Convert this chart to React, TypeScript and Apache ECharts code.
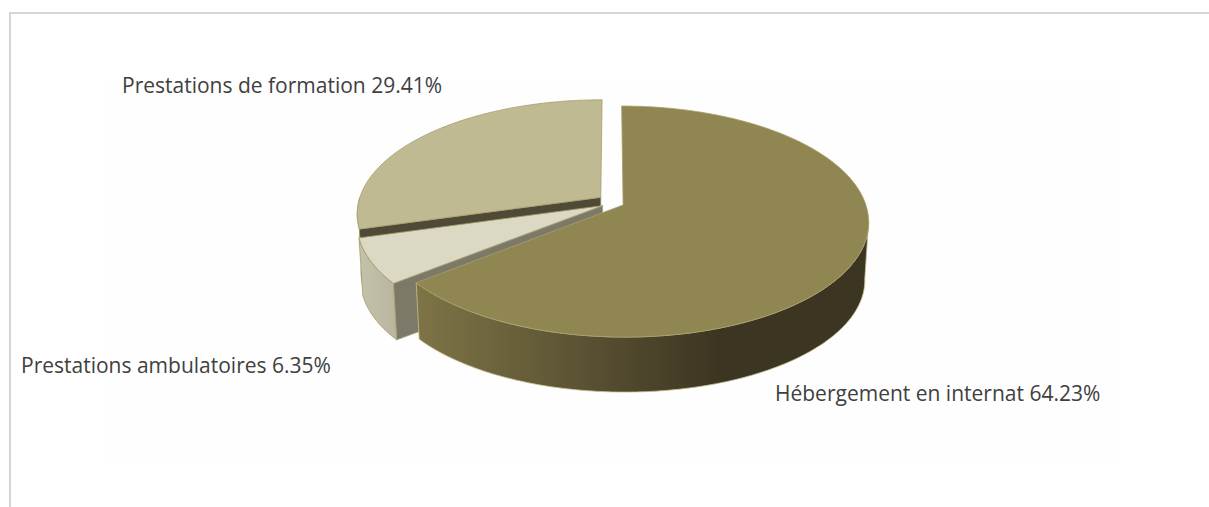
import React, { useEffect, useRef } from "react";
import * as echarts from "echarts";

const categories = ["Hébergement en internat", "Prestations ambulatoires", "Prestations de formation"];
const shares = [64.23, 6.35, 29.41];

const W = 1209;
const H = 507;
const X0 = 612.5, Y0 = 202.4, BX = 242, AY = 112.4, K = 1 / 7, EXPLODE = 0.053;
const WALL = 58.4, SHRINK_X = 0.985, SHRINK_Y = 0.975;
const FONT = "21px 'Open Sans', Lato, sans-serif";
const labelSpots = [
  { x: 775, y: 393 },
  { x: 21, y: 365 },
  { x: 122, y: 85 },
];
const sliceNudgeX = [-1, 1.5, -1.5];
const sliceNudgeY = [0, 0.5, -1.5];
const topFill = ["#908652", "#dbd9c4", "#bfba92"];
const edge = "#a89e6c";
const rad = Math.PI / 180;

function project(u: number, v: number): [number, number] {
  const d = 1 + K * v;
  return [X0 + (BX * u) / d, Y0 - (AY * v) / d];
}
function drop(p: [number, number]): [number, number] {
  return [X0 + (p[0] - X0) * SHRINK_X, Y0 + (p[1] - Y0) * SHRINK_Y + WALL];
}
function rim(a0: number, a1: number, ox: number, oy: number) {
  const pts: [number, number][] = [];
  const n = Math.max(2, Math.ceil(Math.abs(a1 - a0)));
  for (let i = 0; i <= n; i++) {
    const a = (a0 + ((a1 - a0) * i) / n) * rad;
    pts.push(project(ox + Math.sin(a), oy + Math.cos(a)));
  }
  return pts;
}

function sliceElements(i: number) {
  const total = shares.reduce((s, v) => s + v, 0);
  const start = (shares.slice(0, i).reduce((s, v) => s + v, 0) / total) * 360;
  const end = start + (shares[i] / total) * 360;
  const mid = ((start + end) / 2) * rad;
  const ox = EXPLODE * Math.sin(mid);
  const oy = EXPLODE * Math.cos(mid);
  const apex = project(ox, oy);
  const top = rim(start, end, ox, oy);
  const children: any[] = [];
  const poly = (points: [number, number][], fill: any, stroke: any = edge, lineWidth = 0.8) => ({
    type: "polygon",
    shape: { points },
    style: { fill, stroke, lineWidth },
  });
  const wallCurve = (a0: number, a1: number) => {
    const r = rim(a0, a1, ox, oy);
    return r.concat(r.map(drop).reverse());
  };
  if (i === 2) {
    const e = top[0];
    children.push(poly(wallCurve(start, Math.min(end, 270)), "#b5b19a"));
    children.push(poly([apex, e, drop(e), drop(apex)], "#4f4a38"));
  }
  if (i === 1) {
    const e = top[0];
    children.push(poly([apex, e, drop(e), drop(apex)], "#7c7968", "#a39f80"));
    children.push(
      poly(
        wallCurve(start, end),
        new echarts.graphic.LinearGradient(
          360, 0, 400, 0,
          [
            { offset: 0, color: "#c4c1aa" },
            { offset: 1, color: "#b7b39c" },
          ],
          true
        ),
        "#a89e6c"
      )
    );
  }
  if (i === 0) {
    children.push(
      poly(
        wallCurve(98, end),
        new echarts.graphic.LinearGradient(
          417, 0, 720, 0,
          [
            { offset: 0, color: "#7e7446" },
            { offset: 0.5, color: "#5e5535" },
            { offset: 1, color: "#3c3521" },
          ],
          true
        ),
        "#c9c193"
      )
    );
  }
  children.push(poly([apex, ...top], topFill[i]));
  return children;
}

export default function App() {
  const ref = useRef<HTMLDivElement>(null);
  useEffect(() => {
    if (!ref.current) return;
    const chart = echarts.init(ref.current, null, { renderer: "svg" });
    chart.setOption({
      animation: false,
      backgroundColor: "#ffffff",
      graphic: [
        { type: "rect", silent: true, z: -2, shape: { x: 110, y: 80, width: 1010, height: 385 }, style: { fill: "#fefefe" } },
        { type: "line", silent: true, z: -1, shape: { x1: 10, y1: 13, x2: 1209, y2: 13 }, style: { stroke: "#d6d6d6", lineWidth: 2 } },
        { type: "line", silent: true, z: -1, shape: { x1: 10, y1: 12, x2: 10, y2: 507 }, style: { stroke: "#d6d6d6", lineWidth: 2 } },
      ],
      series: [
        {
          type: "custom",
          coordinateSystem: "none",
          silent: true,
          data: [2, 1, 0].map((i) => ({ name: categories[i], value: [i, shares[i]] })),
          renderItem: (_p: any, api: any) => {
            const i = api.value(0) as number;
            const spot = labelSpots[i];
            return {
              type: "group",
              children: [
                { type: "group", x: sliceNudgeX[i], y: sliceNudgeY[i], children: sliceElements(i) },
                {
                  type: "text",
                  style: {
                    text: `${categories[i]} ${shares[i].toFixed(2)}%`,
                    x: spot.x,
                    y: spot.y,
                    fill: "#404040",
                    font: FONT,
                    textAlign: "left",
                    textVerticalAlign: "middle",
                  },
                },
              ],
            };
          },
        },
      ],
    });
    return () => chart.dispose();
  }, []);
  return <div ref={ref} style={{ position: "absolute", left: 0, top: 0, width: W, height: H }} />;
}
